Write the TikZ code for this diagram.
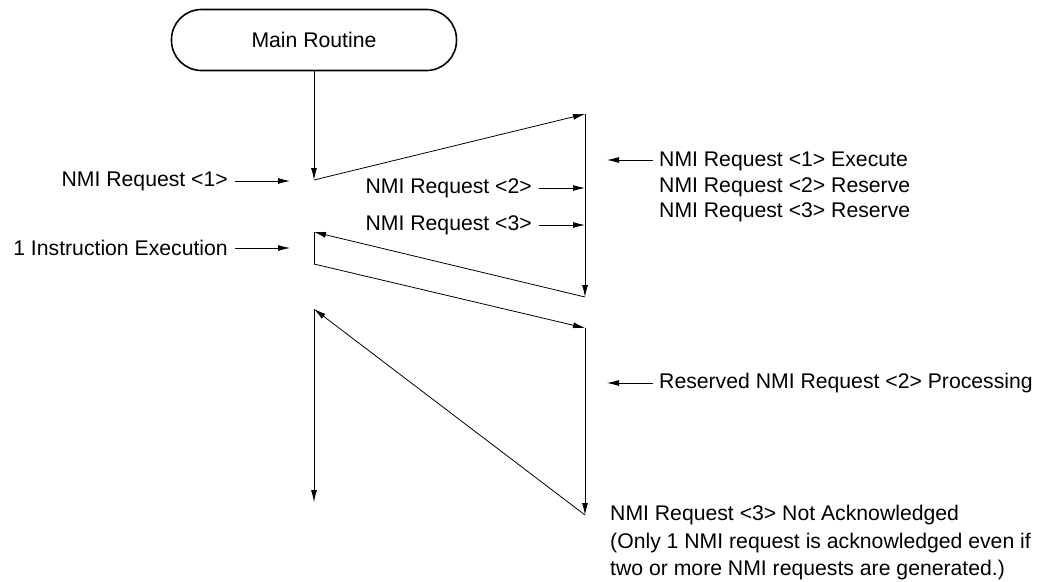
\documentclass[tikz,border=0pt]{standalone}
\usepackage{fontspec}
\setmainfont{Liberation Sans}
\usetikzlibrary{arrows.meta}
\begin{document}
\begin{tikzpicture}[x=1pt,y=-1pt,
  lbl/.style={inner sep=0pt,font=\fontsize{21.2}{27.5}\selectfont},
  flow/.style={line width=0.8pt,-{Latex[length=12pt,width=6pt]}},
  plain/.style={line width=0.8pt},
  term/.style={draw,line width=1.6pt,rounded corners=30pt,minimum width=285pt,minimum height=61pt,inner sep=0pt,font=\fontsize{21.2}{27}\selectfont}]
\useasboundingbox (0,0) rectangle (1044,581);
\node[term] (main) at (314,40) {Main Routine};
% flow points
\coordinate (a1) at (314,180);
\coordinate (b1) at (585,114);
\coordinate (b2) at (585,297);
\coordinate (a2) at (314,232);
\coordinate (a3) at (314,264);
\coordinate (b3) at (585,328);
\coordinate (b4) at (585,515);
\coordinate (a4) at (314,309);
\coordinate (a5) at (314,502);
\draw[flow] (main.south) -- (a1);
\draw[flow] (a1) -- (b1);
\draw[flow] (b1) -- (b2);
\draw[flow] (b2) -- (a2);
\draw[plain] (a2) -- (a3);
\draw[flow] (a3) -- (b3);
\draw[flow] (b3) -- (b4);
\draw[flow] (b4) -- (a4);
\draw[flow] (a4) -- (a5);
% left labels
\node[lbl,anchor=east] (n1) at (228,181) {NMI Request <1>};
\coordinate (n1t) at (290,181);
\draw[flow] ([xshift=7pt]n1.east) -- (n1t);
\node[lbl,anchor=east] (ie) at (228,248) {1 Instruction Execution};
\coordinate (iet) at (290,248);
\draw[flow] ([xshift=7pt]ie.east) -- (iet);
\node[lbl,anchor=east] (n2) at (532,188) {NMI Request <2>};
\coordinate (n2t) at (585,188);
\draw[flow] ([xshift=7pt]n2.east) -- (n2t);
\node[lbl,anchor=east] (n3) at (532,225) {NMI Request <3>};
\coordinate (n3t) at (585,225);
\draw[flow] ([xshift=7pt]n3.east) -- (n3t);
% right labels
\node[lbl,anchor=west,align=left,font=\fontsize{21.2}{25.5}\selectfont] (r1) at (659,187) {NMI Request <1> Execute\\NMI Request <2> Reserve\\NMI Request <3> Reserve};
\coordinate (r1t) at (607,160);
\draw[flow] (653,160) -- (r1t);
\node[lbl,anchor=west] (r2) at (659,383) {Reserved NMI Request <2> Processing};
\coordinate (r2t) at (607,383);
\draw[flow] ([xshift=-6pt]r2.west) -- (r2t);
\node[lbl,anchor=west,align=left] (r3) at (610,543) {NMI Request <3> Not Acknowledged\\(Only 1 NMI request is acknowledged even if\\two or more NMI requests are generated.)};
\end{tikzpicture}
\end{document}
